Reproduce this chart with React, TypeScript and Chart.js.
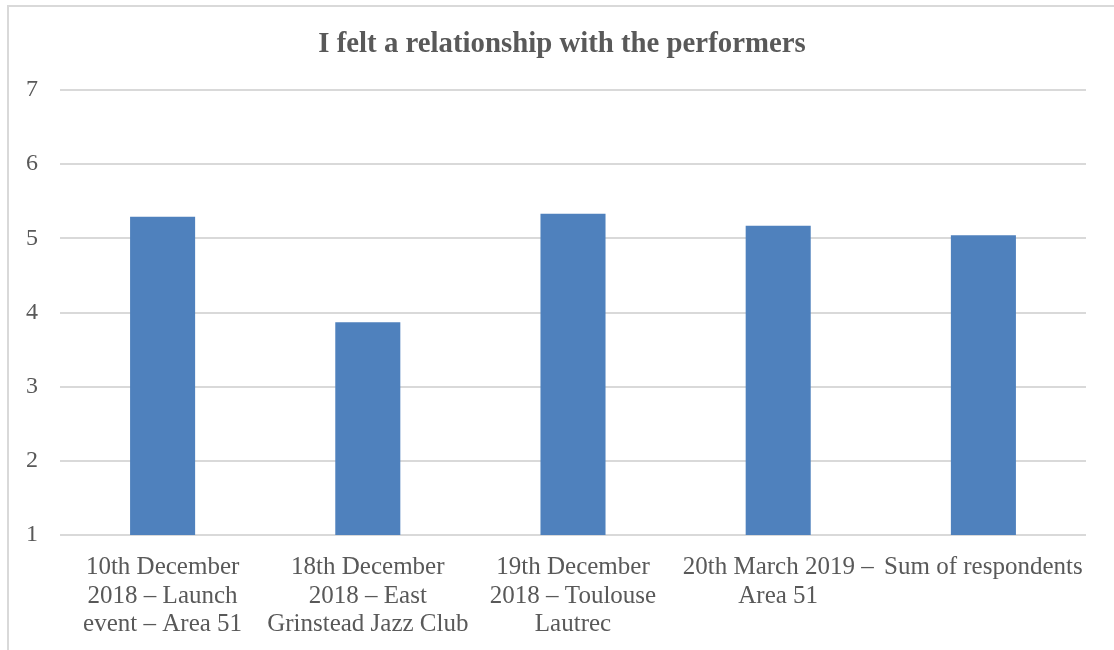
import React, { useEffect, useRef } from "react";
import { Chart, registerables } from "chart.js";

Chart.register(...registerables);

const chartTitle = "I felt a relationship with the performers";
const categories: string[][] = [
  ["10th December", "2018 – Launch", "event – Area 51"],
  ["18th December", "2018 – East", "Grinstead Jazz Club"],
  ["19th December", "2018 – Toulouse", "Lautrec"],
  ["20th March 2019 –", "Area 51"],
  ["Sum of respondents"],
];
const values: number[] = [5.29, 3.87, 5.33, 5.17, 5.04];
const yMin = 1;
const yMax = 7;

const TEXT = "#595959";
const GRID = "#d9d9d9";
const BAR = "#4f81bd";
const FONT = "'Liberation Serif', 'Times New Roman', serif";

const titlePlugin = {
  id: "customTitle",
  afterDraw(chart: any) {
    const ctx = chart.ctx as CanvasRenderingContext2D;
    ctx.save();
    ctx.fillStyle = TEXT;
    ctx.font = `bold 28.8px ${FONT}`;
    ctx.textAlign = "center";
    ctx.textBaseline = "alphabetic";
    ctx.fillText(chartTitle, 562, 52);
    ctx.restore();
  },
};

export default function App() {
  const ref = useRef<HTMLCanvasElement | null>(null);

  useEffect(() => {
    if (!ref.current) return;
    const chart = new Chart(ref.current, {
      type: "bar",
      data: {
        labels: categories,
        datasets: [
          {
            data: values,
            backgroundColor: BAR,
            borderWidth: 0,
            barPercentage: 0.317,
            categoryPercentage: 1,
          },
        ],
      },
      plugins: [titlePlugin],
      options: {
        animation: false,
        responsive: false,
        maintainAspectRatio: false,
        layout: { padding: { left: 0, right: 28, top: 90, bottom: 0 } },
        plugins: {
          legend: { display: false },
          tooltip: { enabled: false },
          title: { display: false },
        },
        scales: {
          x: {
            afterFit: (scale: any) => {
              scale.height = 115;
            },
            grid: { display: false, drawTicks: false },
            border: { display: false },
            ticks: {
              color: TEXT,
              font: { family: FONT, size: 25, lineHeight: 1.15 },
              padding: 18,
              maxRotation: 0,
              autoSkip: false,
            },
          },
          y: {
            min: yMin,
            max: yMax,
            afterFit: (scale: any) => {
              scale.width = 60;
            },
            grid: { color: GRID, lineWidth: 2, drawTicks: false },
            border: { display: false },
            ticks: {
              stepSize: 1,
              color: TEXT,
              font: { family: FONT, size: 24 },
              padding: 22,
            },
          },
        },
      },
    });
    return () => chart.destroy();
  }, []);

  return (
    <div style={{ position: "absolute", left: 0, top: 0, width: 1114, height: 650, background: "#fff", overflow: "hidden" }}>
      <div
        style={{
          position: "absolute",
          left: 7,
          top: 5,
          width: 1120,
          height: 660,
          borderTop: `2px solid ${GRID}`,
          borderLeft: `2px solid ${GRID}`,
        }}
      />
      <canvas ref={ref} width={1114} height={650} style={{ position: "absolute", left: 0, top: 0, width: 1114, height: 650 }} />
    </div>
  );
}
